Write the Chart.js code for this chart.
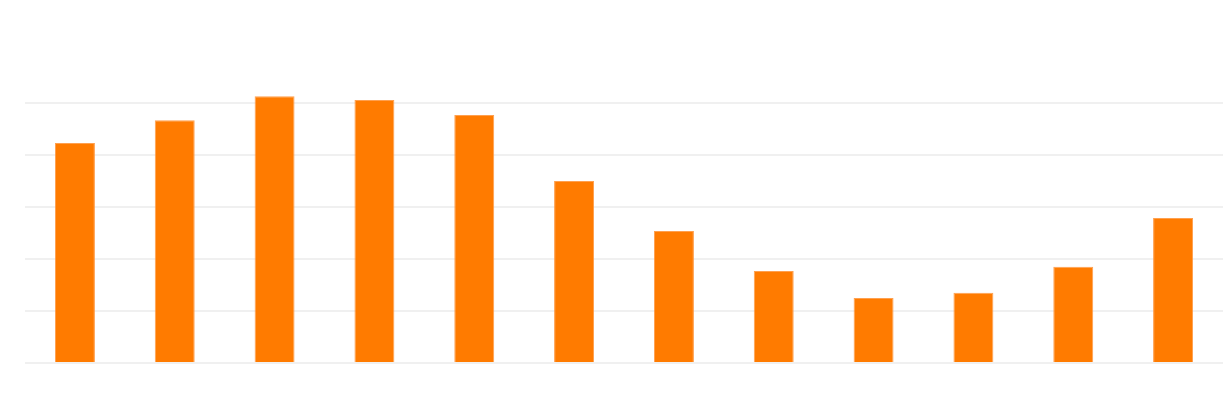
<!DOCTYPE html>
<html>
<head>
<meta charset="utf-8">
<script src="https://cdn.jsdelivr.net/npm/chart.js@4/dist/chart.umd.min.js"></script>
<style>
html,body{margin:0;padding:0;background:#fff;}
#wrap{width:1223px;height:395px;position:relative;}
</style>
</head>
<body>
<div id="wrap"><canvas id="c"></canvas></div>
<script>
const categories = ['Jan','Feb','Mar','Apr','May','Jun','Jul','Aug','Sep','Oct','Nov','Dec'];
const values = [4.23, 4.67, 5.13, 5.06, 4.77, 3.50, 2.54, 1.77, 1.25, 1.35, 1.85, 2.79];
const yTicks = [0, 1, 2, 3, 4, 5, 6];

new Chart(document.getElementById('c'), {
  type: 'bar',
  data: {
    labels: categories,
    datasets: [{
      data: values,
      backgroundColor: '#ff7b00',
      borderColor: 'rgba(255,150,60,0.9)',
      borderWidth: 1,
      barPercentage: 0.4,
      categoryPercentage: 1.0
    }]
  },
  options: {
    responsive: true,
    maintainAspectRatio: false,
    animation: false,
    layout: { padding: { left: 25, right: 0, top: 51, bottom: 32 } },
    plugins: { legend: { display: false }, tooltip: { enabled: false } },
    scales: {
      x: {
        display: true,
        grid: { display: false, drawTicks: false },
        border: { display: false },
        ticks: { display: false }
      },
      y: {
        min: yTicks[0],
        max: yTicks[yTicks.length - 1],
        afterBuildTicks: (axis) => { axis.ticks = yTicks.map(v => ({ value: v })); },
        grid: {
          color: (ctx) => (ctx.tick && ctx.tick.value > 5) ? 'rgba(0,0,0,0)' : '#f0f0f0',
          lineWidth: 2,
          drawTicks: false
        },
        border: { display: false },
        ticks: { display: false }
      }
    }
  }
});
</script>
</body>
</html>
